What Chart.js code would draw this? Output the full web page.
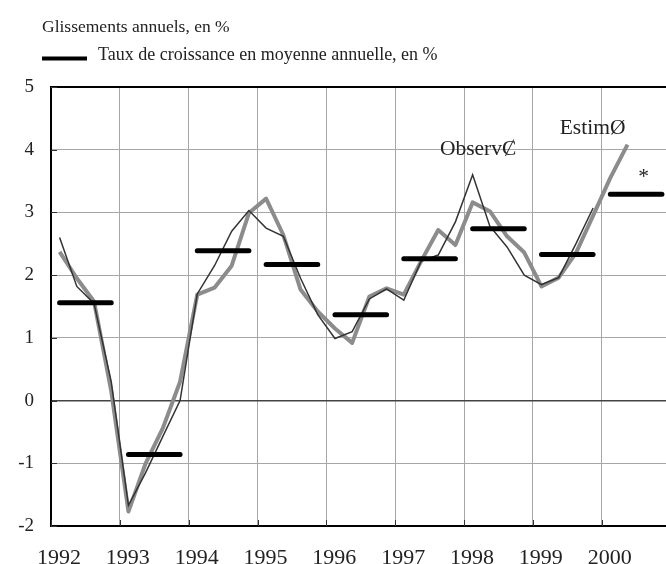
<!DOCTYPE html>
<html>
<head>
<meta charset="utf-8">
<script src="https://cdn.jsdelivr.net/npm/chart.js@4.4.0/dist/chart.umd.min.js"></script>
<style>
  html, body { margin: 0; padding: 0; background: #fff; }
  #wrap { width: 666px; height: 564px; position: relative; }
</style>
</head>
<body>
<div id="wrap"><canvas id="chart"></canvas></div>
<script>
// années affichées sur l'axe
const YEARS = [1992, 1993, 1994, 1995, 1996, 1997, 1998, 1999, 2000];
const Y_TICKS = [-2, -1, 0, 1, 2, 3, 4, 5];

// glissements annuels trimestriels, à partir de 1992T1
const GLISS_OBSERVE = [
  2.60, 1.82, 1.55, 0.30,
  -1.67, -1.15, -0.57, 0.00,
  1.70, 2.15, 2.70, 3.03,
  2.75, 2.62, 1.95, 1.37,
  0.99, 1.10, 1.62, 1.78,
  1.60, 2.22, 2.32, 2.85,
  3.60, 2.78, 2.45, 2.00,
  1.85, 1.96, 2.50, 3.07
];
const GLISS_ESTIME = [
  2.37, 1.95, 1.58, 0.15,
  -1.77, -1.00, -0.44, 0.30,
  1.69, 1.80, 2.15, 2.99,
  3.22, 2.64, 1.77, 1.42,
  1.15, 0.92, 1.66, 1.79,
  1.69, 2.22, 2.72, 2.48,
  3.16, 3.02, 2.62, 2.36,
  1.82, 1.96, 2.35, 2.95,
  3.55, 4.08
];
// taux de croissance en moyenne annuelle
const MOYENNE_ANNUELLE = [1.56, -0.86, 2.39, 2.17, 1.37, 2.26, 2.74, 2.33, 3.29];

const LEGENDE = ["Glissements annuels, en %", "Taux de croissance en moyenne annuelle, en %"];
const NOTES = [
  { text: "ObservȻ", x: 1997.65, y: 3.92 },
  { text: "EstimØ", x: 1999.39, y: 4.25 },
  { text: "*", x: 2000.53, y: 3.47 }
];

const SERIF = "'Liberation Serif', 'Times New Roman', serif";
const X_MIN = 1992, X_MAX = 2000.934;

const quarterPts = arr => arr.map((v, i) => ({ x: 1992 + (i + 0.5) / 4, y: v }));
const barPts = [];
MOYENNE_ANNUELLE.forEach((v, i) => {
  const yr = YEARS[i];
  barPts.push({ x: yr + 0.125, y: v }, { x: yr + 0.875, y: v }, { x: yr + 0.95, y: null });
});

const decor = {
  id: 'decor',
  beforeDatasetsDraw(chart) {
    const { ctx, chartArea: a, scales: { x, y } } = chart;
    ctx.save();
    ctx.strokeStyle = '#333';
    ctx.lineWidth = 1;
    ctx.beginPath();
    YEARS.forEach(v => {
      const px = Math.round(x.getPixelForValue(v)) + 0.5;
      ctx.moveTo(px, a.bottom);
      ctx.lineTo(px, a.bottom - 6);
    });
    Y_TICKS.forEach(v => {
      const py = Math.round(y.getPixelForValue(v)) + 0.5;
      ctx.moveTo(a.left, py);
      ctx.lineTo(a.left + 6, py);
    });
    ctx.stroke();
    ctx.restore();
  },
  afterDraw(chart) {
    const { ctx, scales: { x, y } } = chart;
    ctx.save();
    ctx.fillStyle = '#222';
    ctx.textBaseline = 'alphabetic';
    ctx.textAlign = 'left';
    ctx.font = '17.5px ' + SERIF;
    ctx.fillText(LEGENDE[0], 42, 32);
    ctx.font = '18px ' + SERIF;
    ctx.fillText(LEGENDE[1], 98, 60);
    ctx.strokeStyle = '#000';
    ctx.lineWidth = 4;
    ctx.beginPath();
    ctx.moveTo(42, 58.5);
    ctx.lineTo(87, 58.5);
    ctx.stroke();

    ctx.font = '21.5px ' + SERIF;
    NOTES.forEach(n => {
      ctx.fillText(n.text, x.getPixelForValue(n.x), y.getPixelForValue(n.y));
    });
    ctx.restore();
  }
};

new Chart(document.getElementById('chart'), {
  type: 'line',
  data: {
    datasets: [
      {
        label: LEGENDE[1],
        data: barPts,
        borderColor: '#000',
        borderWidth: 5,
        borderCapStyle: 'round',
        spanGaps: false,
        pointRadius: 0
      },
      {
        label: 'Observé',
        data: quarterPts(GLISS_OBSERVE),
        borderColor: '#333',
        borderWidth: 1.5,
        pointRadius: 0,
        tension: 0
      },
      {
        label: 'Estimé',
        data: quarterPts(GLISS_ESTIME),
        borderColor: '#8c8c8c',
        borderWidth: 4,
        borderJoinStyle: 'round',
        pointRadius: 0,
        tension: 0
      }
    ]
  },
  options: {
    responsive: true,
    maintainAspectRatio: false,
    animation: false,
    layout: { padding: { top: 87, left: 0, right: 0, bottom: 0 } },
    plugins: {
      legend: { display: false },
      tooltip: { enabled: false }
    },
    scales: {
      x: {
        type: 'linear',
        min: X_MIN,
        max: X_MAX,
        afterBuildTicks: s => { s.ticks = YEARS.map(v => ({ value: v })); },
        afterFit: s => { s.height = 38; },
        grid: { color: '#a6a6a6', lineWidth: 1, drawTicks: false },
        border: { display: true, color: '#000', width: 2 },
        ticks: {
          callback: v => String(v),
          font: { family: SERIF, size: 22 },
          color: '#222',
          padding: 19,
          labelOffset: 8,
          maxRotation: 0,
          autoSkip: false
        }
      },
      y: {
        min: -2,
        max: 5,
        afterBuildTicks: s => { s.ticks = Y_TICKS.map(v => ({ value: v })); },
        afterFit: s => { s.width = 51; },
        grid: {
          drawTicks: false,
          color: c => c.tick.value === 5 ? '#000' : (c.tick.value === 0 ? '#444' : '#a6a6a6'),
          lineWidth: c => c.tick.value === 5 ? 2 : (c.tick.value === 0 ? 1.5 : 1)
        },
        border: { display: true, color: '#000', width: 2 },
        ticks: {
          callback: v => String(v),
          font: { family: SERIF, size: 19 },
          color: '#222',
          padding: 17
        }
      }
    }
  },
  plugins: [decor]
});
</script>
</body>
</html>
